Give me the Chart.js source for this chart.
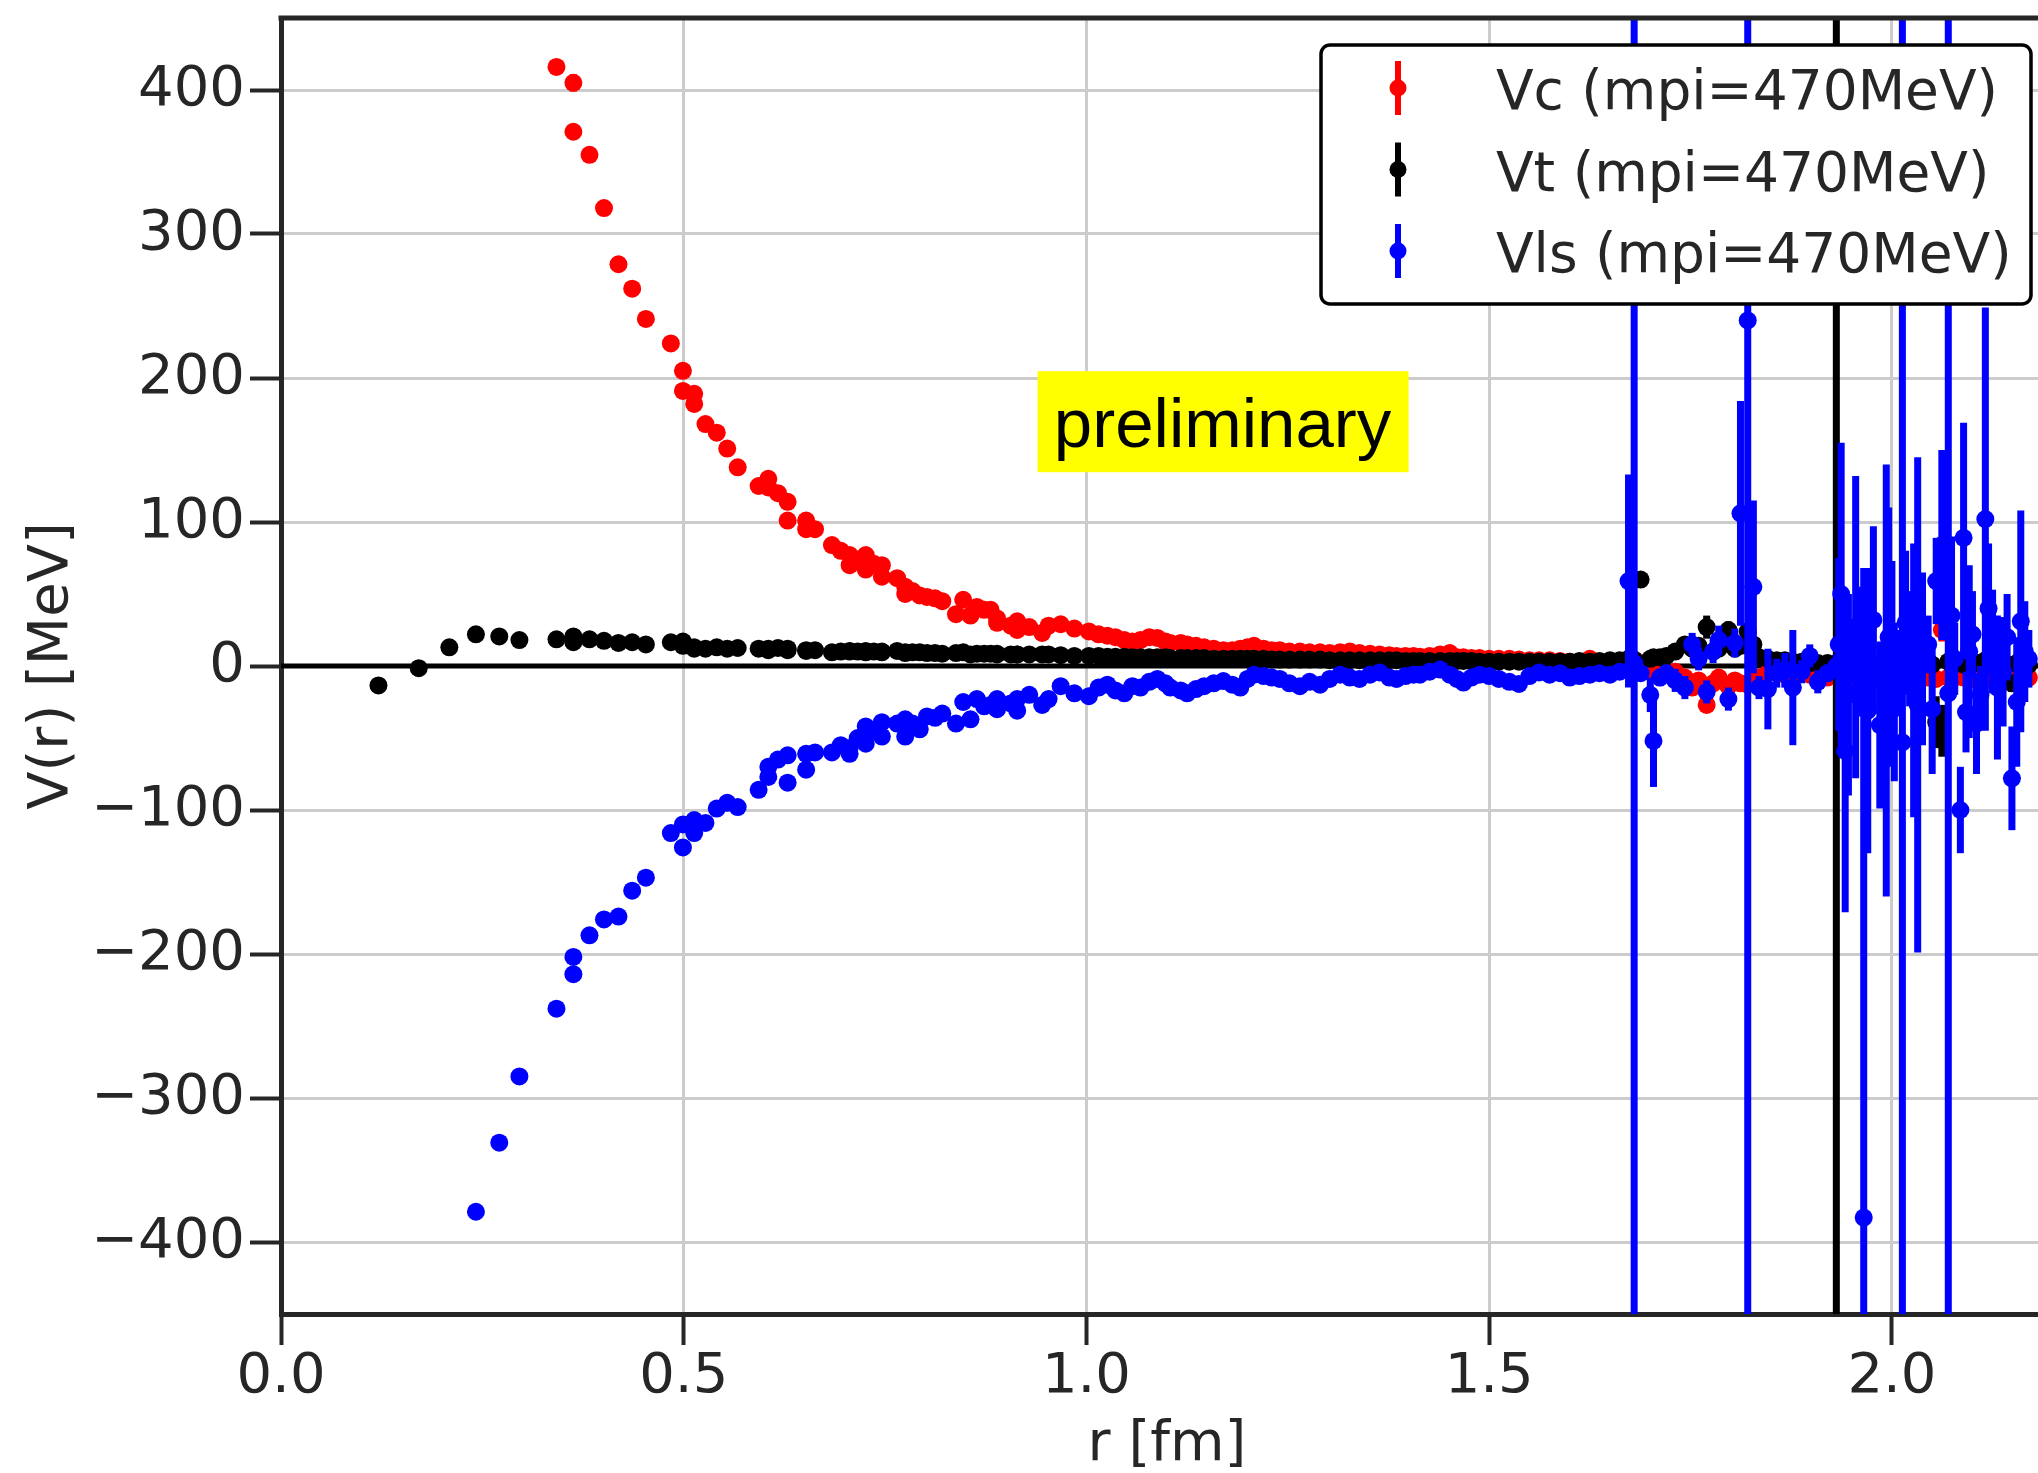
<!DOCTYPE html>
<html>
<head>
<meta charset="utf-8">
<title>V(r) potentials</title>
<script src="https://cdn.jsdelivr.net/npm/chart.js@4.4.1/dist/chart.umd.min.js"></script>
<style>
  html, body { margin: 0; padding: 0; background: #fff; overflow: hidden; }
  /* axes run to r = 2.2 but the picture is cropped at the window edge */
  #wrap { width: 2062px; height: 1473px; }
</style>
</head>
<body>
<div id="wrap"><canvas id="potentialChart"></canvas></div>
<script>
// r [fm] of every lattice point (shared by the three potentials)
const rValues = [
  0.121, 0.171, 0.209, 0.242, 0.271, 0.296, 0.342, 0.363, 0.363, 0.383,
  0.401, 0.419, 0.436, 0.453, 0.484, 0.499, 0.499, 0.513, 0.513, 0.527,
  0.541, 0.554, 0.567, 0.593, 0.605, 0.605, 0.617, 0.629, 0.629, 0.652,
  0.652, 0.663, 0.684, 0.695, 0.706, 0.706, 0.716, 0.726, 0.726, 0.736,
  0.746, 0.746, 0.765, 0.775, 0.775, 0.784, 0.793, 0.802, 0.812, 0.821,
  0.838, 0.847, 0.856, 0.864, 0.873, 0.881, 0.889, 0.889, 0.906, 0.914,
  0.914, 0.929, 0.945, 0.953, 0.968,
  0.985, 1.003, 1.015, 1.026, 1.036, 1.047, 1.057, 1.067, 1.078, 1.088,
  1.098, 1.104, 1.117, 1.125, 1.136, 1.146, 1.158, 1.170, 1.181, 1.191,
  1.200, 1.208, 1.220, 1.230, 1.240, 1.252, 1.265, 1.277, 1.290, 1.302,
  1.315, 1.327, 1.339, 1.352, 1.364, 1.376, 1.385, 1.396, 1.406, 1.414,
  1.426, 1.439, 1.451, 1.460, 1.468, 1.478, 1.488, 1.500, 1.512, 1.525,
  1.537, 1.550, 1.562,
  1.575, 1.588, 1.600, 1.612, 1.625, 1.637, 1.650, 1.662, 1.673, 1.680,
  1.688, 1.700, 1.704, 1.712, 1.720, 1.731, 1.743, 1.752, 1.760, 1.770,
  1.778, 1.785, 1.797, 1.805, 1.812, 1.821, 1.828, 1.835, 1.846, 1.857,
  1.867, 1.877, 1.888, 1.898, 1.908, 1.920, 1.931, 1.937, 1.942, 1.949,
  1.955, 1.965, 1.970, 1.977, 1.985, 1.993, 2.000, 2.006, 2.013, 2.022,
  2.032, 2.045, 2.055, 2.062, 2.070, 2.078, 2.085, 2.089, 2.092, 2.100,
  2.110, 2.116, 2.125, 2.138, 2.149, 2.160, 2.170,
  // more points inside the noisy tail
  1.934, 1.946, 1.960, 1.996, 2.003, 2.017, 2.027, 2.038, 2.050, 2.074,
  2.096, 2.105, 2.120, 2.131, 2.143, 2.155, 2.165,
];

// Vc [MeV] (null = off the top of the plot)
const vcValues = [
  null, null, null, null, null, null, 416, 405, 371, 355,
  318, 279, 262, 241, 224, 205, 191, 189, 182, 168,
  162, 151, 138, 125, 130, 124, 120, 114, 101, 101,
  95, 95, 84, 80, 77, 70, 74, 77, 67, 71,
  70, 62, 61, 55, 50, 52, 49, 48, 47, 45,
  36, 46, 35, 41, 39, 39, 30, 33, 28, 25,
  31, 27, 23, 28, 29,
  26, 24, 22, 21, 20, 18, 17, 18, 20, 19.5,
  17, 16, 16, 15, 14, 13, 12, 11, 11, 12,
  13, 14, 12, 11, 11, 10, 10, 9.5, 9.5, 9,
  9.5, 10, 9, 8.5, 8, 7.5, 7, 7, 7, 6.5,
  7, 8, 9, 6, 6, 5.5, 5.5, 5, 5, 5,
  4.5, 4, 4,
  4, 3.5, 3, 3, 5, 3, 2.5, 2.5, 2, 3,
  2, -3, -5, -4, -5, -4, -8, -15, -10, -27,
  -12, -8, -14, -10, -12, -13, -12, -8, -5, -5,
  -6, -4, -5, -6, -6, -8, -5, -7, -8, -9,
  -10, -8, -9, -9, -10, -10, -8, -9, -9, -7,
  -6, -8, -9, 25, -8, -8, -7, -8, -8, -9,
  -8, -7, -6, -7, -8, -6, -8,
  -7, -8, -9, -9, -8, -8, -7, -8, -7, -8,
  -8, -7, -8, -7, -8, -6, -7,
];
const vcErrors = [
  0, 0, 0, 0, 0, 0, 4, 6, 4, 4,
  3, 3, 3, 3, 3, 3, 3, 3, 3, 3,
  3, 3, 3, 3, 3, 3, 3, 3, 3, 3,
  3, 3, 3, 3, 3, 3, 3, 3, 3, 3,
  3, 3, 3, 3, 3, 3, 3, 3, 3, 3,
  3, 3, 3, 3, 3, 3, 3, 3, 3, 3,
  3, 3, 3, 3, 3,
  3, 3, 3, 3, 3, 3, 3, 3, 3, 3,
  3, 3, 3, 3, 3, 3, 3, 3, 3, 3,
  3, 3, 3, 3, 3, 3, 3, 3, 3, 3,
  3, 3, 3, 3, 3, 3, 3, 3, 3, 3,
  3, 3, 3, 3, 3, 3, 3, 3, 3, 3,
  3, 3, 3,
  2, 2, 2, 2, 2, 2, 2, 2, 3, 3,
  3, 3, 3, 3, 3, 3, 3, 3, 3, 4,
  3, 3, 3, 3, 3, 3, 3, 3, 3, 3,
  3, 3, 3, 3, 3, 3, 4, 4, 4, 4,
  4, 4, 4, 4, 4, 5, 5, 5, 5, 5,
  5, 5, 5, 8, 5, 5, 5, 5, 5, 5,
  5, 5, 5, 5, 5, 5, 5,
  4, 4, 4, 5, 5, 5, 5, 5, 5, 5,
  5, 5, 5, 5, 5, 5, 5,
];

// Vt [MeV]
const vtValues = [
  -13.5, -1.5, 13, 22, 20.5, 18, 18.5, 20.5, 16.5, 18.5,
  17.5, 16, 16.5, 15, 16.5, 17, 14, 12, 13, 12,
  13, 12, 12.5, 12, 12, 11, 12.5, 12, 11, 10.5,
  11, 11, 9.5, 10, 10.5, 10, 10, 10.5, 9.5, 10,
  9.5, 10, 10.5, 9.5, 9, 9.5, 9.5, 9, 9, 8.5,
  9, 9.5, 8, 8.5, 8.5, 8.5, 8.5, 8, 8, 8,
  8, 8, 8, 8, 7.5,
  7, 7, 7, 6.5, 6.5, 6.5, 6, 6, 6, 6,
  6, 5.5, 5.5, 5.5, 5.5, 5.5, 5, 5, 5, 5,
  5, 5, 5, 4.5, 4.5, 4.5, 4.5, 4.5, 4.5, 4,
  4, 4, 4, 4, 4, 4, 4, 3.5, 3.5, 3.5,
  3.5, 3.5, 3.5, 3.5, 3.5, 3.5, 3, 3, 3, 3,
  3, 3, 3,
  3, 3, 3, 3.5, 3, 3.5, 4, 4, 5, 4.5,
  60, 5, 6, 6, 7, 10, 15, 12, 14, 27,
  10, 12, 25, 12, 14, 24, 15, 6, 5, 4,
  4, 3, 3, 2, 2, 2, 2, 3, 0, 2,
  1, 3, 2, 2, 1, 3, 2, 1, 1, 3,
  2, 3, -39, -45, 3, 2, 2, 1, 1, 3,
  2, 4, 2, 1, -12, 2, 1,
  1, 2, 1, 2, 1, 2, 1, 2, 1, 2,
  1, 2, 1, 2, 1, 2, 1,
];
const vtErrors = [
  2, 2, 2, 2, 2, 2, 2, 2, 2, 2,
  2, 2, 2, 2, 2, 2, 2, 2, 2, 2,
  2, 2, 2, 2, 2, 2, 2, 2, 2, 2,
  2, 2, 2, 2, 2, 2, 2, 2, 2, 2,
  2, 2, 2, 2, 2, 2, 2, 2, 2, 2,
  2, 2, 2, 2, 2, 2, 2, 2, 2, 2,
  2, 2, 2, 2, 2,
  2, 2, 2, 2, 2, 2, 2, 2, 2, 2,
  2, 2, 2, 2, 2, 2, 2, 2, 2, 2,
  2, 2, 2, 2, 2, 2, 2, 2, 2, 2,
  2, 2, 2, 2, 2, 2, 2, 2, 2, 2,
  2, 2, 2, 2, 2, 2, 2, 2, 2, 2,
  2, 2, 2,
  1, 1, 1, 1, 1, 2, 2, 2, 2, 2,
  4, 2, 2, 2, 2, 3, 3, 3, 3, 8,
  3, 4, 6, 4, 4, 6, 4, 3, 3, 3,
  3, 3, 3, 3, 3, 3, 480, 4, 4, 4,
  4, 5, 5, 5, 5, 5, 5, 6, 6, 6,
  6, 6, 18, 18, 6, 6, 6, 6, 6, 6,
  6, 6, 6, 6, 6, 6, 6,
  4, 4, 5, 5, 5, 6, 6, 6, 6, 6,
  6, 6, 6, 6, 6, 6, 6,
];

// Vls [MeV] (null = off the bottom of the plot)
const vlsValues = [
  null, null, null, -379, -331, -285, -238, -214, -202, -187,
  -176, -174, -156, -147, -116, -126, -110, -107, -116, -109,
  -99, -95, -98, -86, -70, -77, -65, -62, -81, -61,
  -72, -60, -60, -55, -61, -57, -50, -54, -42, -45,
  -39, -49, -40, -37, -49, -40, -44, -35, -36, -33,
  -40, -25, -37, -23, -28, -27, -23, -30, -26, -31,
  -23, -20, -27, -23, -14,
  -19, -21, -15, -13, -17, -19, -14, -15, -11, -9,
  -12, -15, -17, -19, -16, -14, -12, -10.5, -13, -15,
  -9, -6, -7, -8, -9, -12, -14, -11, -13, -9,
  -6, -8, -9, -6, -4.5, -8, -9, -7, -6, -6,
  -4, -2.5, -6, -9, -11.5, -8, -6, -7, -9, -11,
  -12.5, -7, -4.5,
  -6, -5, -8, -7, -6, -5, -6, -4, 59, 2,
  -5, -20, -52, -8, -5, -10, -15, 15, 5, -18,
  10, 18, -23, 16, 106, 240, 55, -15, -16, -5,
  -3, -15, -4, 7, -11, -5, 0, 50, -59, 8,
  27, -383, -31, 32, -41, -10, 7, -5, -53, 12,
  -27, 15, 59, 84, -19, 5, -100, 89, -32, 22,
  -20, 102, 17, -4, -78, 31, 5,
  15, -20, 10, 20, -25, 30, -10, 5, -30, 35,
  10, -40, 40, -15, 20, -25, 10,
];
const vlsErrors = [
  0, 0, 0, 4, 4, 4, 4, 4, 3, 3,
  3, 3, 3, 3, 3, 3, 3, 3, 3, 3,
  3, 3, 3, 3, 3, 3, 3, 3, 3, 3,
  3, 3, 3, 3, 3, 3, 3, 3, 3, 3,
  3, 3, 3, 3, 3, 3, 3, 3, 3, 3,
  3, 3, 3, 3, 3, 3, 3, 3, 3, 3,
  3, 3, 3, 3, 3,
  3, 3, 3, 3, 3, 3, 3, 3, 3, 3,
  3, 3, 3, 3, 3, 3, 3, 3, 3, 3,
  3, 3, 3, 3, 3, 3, 3, 3, 3, 3,
  3, 3, 3, 3, 3, 3, 3, 3, 3, 3,
  3, 3, 3, 3, 3, 3, 3, 3, 3, 3,
  3, 3, 3,
  3, 3, 3, 3, 3, 4, 4, 5, 74, 700,
  5, 12, 32, 6, 6, 8, 8, 8, 8, 8,
  8, 10, 8, 10, 78, 700, 60, 8, 28, 10,
  12, 40, 8, 8, 8, 6, 8, 105, 112, 20,
  105, 451, 99, 65, 58, 150, 66, 30, 700, 40,
  172, 20, 30, 66, 700, 25, 30, 80, 28, 30,
  20, 147, 36, 38, 36, 77, 20,
  60, 70, 45, 90, 55, 50, 95, 60, 45, 55,
  60, 35, 45, 50, 30, 45, 35,
];

const seriesLabels = ["Vc (mpi=470MeV)", "Vt (mpi=470MeV)", "Vls (mpi=470MeV)"];
const seriesColors = ["#ff0000", "#000000", "#0000ff"];
const xTickValues = [0, 0.5, 1.0, 1.5, 2.0];
const yTickValues = [-400, -300, -200, -100, 0, 100, 200, 300, 400];

const TEXT_COLOR = "#262626";
const GRID_COLOR = "#cccccc";
const FONT = "DejaVu Sans";
const STAMP_AT = { r: 1.169, v: 170 }; // centre of the "preliminary" box

Chart.defaults.font.family = FONT;

const errorSets = [vcErrors, vtErrors, vlsErrors];

function points(values) {
  return rValues.map((r, i) => ({ x: r, y: values[i] }));
}

// vertical error bars, drawn under each dataset's own markers
const errorBars = {
  id: "errorBars",
  beforeDatasetDraw(chart, args) {
    const ds = chart.data.datasets[args.index];
    const errs = errorSets[args.index];
    const { ctx, chartArea: a, scales } = chart;
    ctx.save();
    ctx.beginPath();
    ctx.rect(a.left, a.top, a.right - a.left, a.bottom - a.top);
    ctx.clip();
    ctx.strokeStyle = ds.backgroundColor;
    ctx.lineWidth = 7;
    ds.data.forEach((p, i) => {
      if (p.y == null || !errs[i]) return;
      const px = scales.x.getPixelForValue(p.x);
      ctx.beginPath();
      ctx.moveTo(px, scales.y.getPixelForValue(p.y - errs[i]));
      ctx.lineTo(px, scales.y.getPixelForValue(p.y + errs[i]));
      ctx.stroke();
    });
    ctx.restore();
  },
};

const zeroLine = {
  id: "zeroLine",
  beforeDatasetsDraw(chart) {
    const { ctx, chartArea: a, scales } = chart;
    const y0 = scales.y.getPixelForValue(0);
    ctx.save();
    ctx.strokeStyle = "#000";
    ctx.lineWidth = 5;
    ctx.beginPath();
    ctx.moveTo(a.left, y0);
    ctx.lineTo(a.right, y0);
    ctx.stroke();
    ctx.restore();
  },
};

const frameAndStamp = {
  id: "frameAndStamp",
  afterDatasetsDraw(chart) {
    const { ctx, chartArea: a, scales } = chart;
    ctx.save();
    // top spine
    ctx.strokeStyle = TEXT_COLOR;
    ctx.lineWidth = 5;
    ctx.beginPath();
    ctx.moveTo(a.left - 2.5, a.top);
    ctx.lineTo(a.right, a.top);
    ctx.stroke();
    // "preliminary" box
    const cx = scales.x.getPixelForValue(STAMP_AT.r);
    const cy = scales.y.getPixelForValue(STAMP_AT.v);
    ctx.fillStyle = "#ffff00";
    ctx.fillRect(cx - 185, cy - 50, 371, 101);
    ctx.fillStyle = "#000";
    ctx.font = '69px "Liberation Sans"';
    ctx.textAlign = "center";
    ctx.textBaseline = "alphabetic";
    ctx.fillText("preliminary", cx, cy + 26);
    ctx.restore();
  },
  afterDraw(chart) {
    const { ctx, chartArea: a } = chart;
    const w = 710, h = 259;
    const left = a.right - 22 - w;
    const top = a.top + 27;
    ctx.save();
    ctx.fillStyle = "#fff";
    ctx.strokeStyle = "#000";
    ctx.lineWidth = 3.5;
    ctx.beginPath();
    ctx.roundRect(left, top, w, h, 9);
    ctx.fill();
    ctx.stroke();
    chart.data.datasets.forEach((ds, row) => {
      const cy = top + 43 + row * 81.5;
      const mx = left + 77;
      ctx.strokeStyle = ds.backgroundColor;
      ctx.lineWidth = 6;
      ctx.beginPath();
      ctx.moveTo(mx, cy - 27);
      ctx.lineTo(mx, cy + 27);
      ctx.stroke();
      ctx.fillStyle = ds.backgroundColor;
      ctx.beginPath();
      ctx.arc(mx, cy, 8.5, 0, Math.PI * 2);
      ctx.fill();
      ctx.fillStyle = TEXT_COLOR;
      ctx.font = `55px "${FONT}"`;
      ctx.textAlign = "left";
      ctx.textBaseline = "alphabetic";
      ctx.fillText(ds.label, left + 175, cy + 21);
    });
    ctx.restore();
  },
};

function dataset(i, values) {
  return {
    label: seriesLabels[i],
    data: points(values),
    backgroundColor: seriesColors[i],
    borderColor: seriesColors[i],
    pointRadius: 9,
    pointBorderWidth: 0,
    pointHoverRadius: 9,
    order: 3 - i, // blue ends up on top, like the original
  };
}

// the tick labels must not push the plot area in from the canvas edges
function noEdgePadding(scale) {
  scale.paddingTop = 0;
  scale.paddingBottom = 0;
  scale.paddingLeft = 0;
  scale.paddingRight = 0;
}

const axisTicks = { color: TEXT_COLOR, font: { size: 56, lineHeight: 1 }, autoSkip: false, maxRotation: 0 };
const axisGrid = { color: GRID_COLOR, lineWidth: 3, tickColor: TEXT_COLOR, tickLength: 31, tickWidth: 4 };
const axisBorder = { display: true, color: TEXT_COLOR, width: 5 };

new Chart(document.getElementById("potentialChart"), {
  type: "scatter",
  data: {
    datasets: [dataset(0, vcValues), dataset(1, vtValues), dataset(2, vlsValues)],
  },
  options: {
    responsive: true,
    maintainAspectRatio: false,
    animation: false,
    events: [],
    layout: { padding: { top: 18, right: 3, left: 0, bottom: 0 } },
    plugins: { legend: { display: false }, tooltip: { enabled: false } },
    scales: {
      x: {
        type: "linear",
        min: 0,
        max: 2.2,
        afterFit(scale) { scale.height = 159; noEdgePadding(scale); },
        afterBuildTicks(scale) { scale.ticks = xTickValues.map((v) => ({ value: v })); },
        grid: axisGrid,
        border: axisBorder,
        ticks: { ...axisTicks, padding: 4, callback: (v) => Number(v).toFixed(1) },
        title: { display: true, text: "r [fm]", color: TEXT_COLOR, font: { size: 56, lineHeight: 1 }, padding: 0 },
      },
      y: {
        type: "linear",
        min: -450,
        max: 450,
        afterFit(scale) { scale.width = 281; noEdgePadding(scale); },
        afterBuildTicks(scale) { scale.ticks = yTickValues.map((v) => ({ value: v })); },
        grid: axisGrid,
        border: axisBorder,
        ticks: { ...axisTicks, padding: 5, callback: (v) => (v < 0 ? "\u2212" + Math.abs(v) : String(v)) },
        title: { display: true, text: "V(r) [MeV]", color: TEXT_COLOR, font: { size: 56, lineHeight: 1 }, padding: { top: 24, bottom: 0 } },
      },
    },
  },
  plugins: [errorBars, zeroLine, frameAndStamp],
});
</script>
</body>
</html>
